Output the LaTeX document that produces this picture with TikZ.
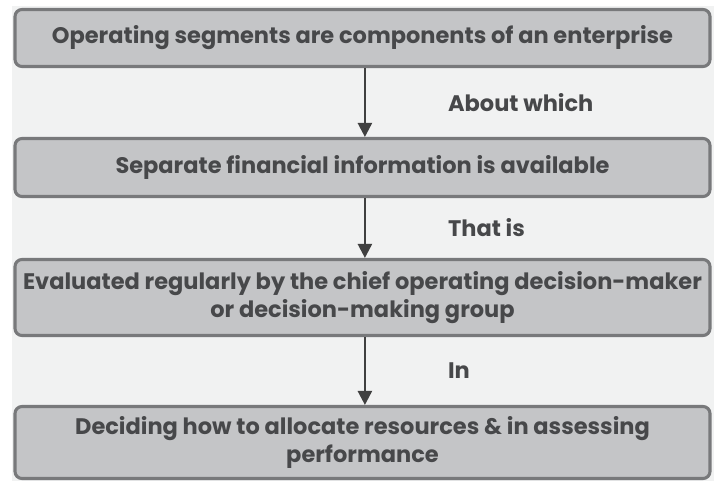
\documentclass[tikz,border=0pt]{standalone}
\usepackage{fontspec}
\setmainfont{Poppins}
\usetikzlibrary{arrows.meta}

\definecolor{pagebg}{HTML}{F1F2F2}
\definecolor{boxfill}{HTML}{C4C5C7}
\definecolor{boxline}{HTML}{78797B}
\definecolor{inktext}{HTML}{47484A}
\definecolor{arrowink}{HTML}{404040}

\begin{document}
\begin{tikzpicture}[
  every node/.style={font=\fontsize{16}{20.5}\selectfont\bfseries, text=inktext},
  stepbox/.style={rectangle, draw=boxline, fill=boxfill, line width=2.2pt,
    rounded corners=5pt, minimum width=17.375cm, align=center, inner sep=2pt},
  flowarrow/.style={draw=arrowink, line width=1.7pt,
    -{Triangle[length=10pt, width=10pt]}},
  linkword/.style={anchor=west, inner sep=0pt},
]

% Canvas
\useasboundingbox (0,0) rectangle (17.85,-12.025);
\fill[white] (0,0) rectangle (17.85,-12.025);
\fill[pagebg] (0.3,-0.15) rectangle (17.85,-12.025);

% Step 1
\node[stepbox, minimum height=1.425cm] (S1) at (9.0625,-0.95)
  {Operating segments are components of an enterprise};

% Step 2
\node[stepbox, minimum height=1.45cm] (S2) at (9.0625,-4.1875)
  {Separate financial information is available};

% Step 3
\node[stepbox, minimum height=1.9cm] (S3) at (9.0625,-7.4375)
  {Evaluated regularly by the chief operating decision-maker\\
   or decision-making group};

% Step 4
\node[stepbox, minimum height=1.8cm] (S4) at (9.0625,-11.0625)
  {Deciding how to allocate resources \& in assessing\\
   performance};

% Connectors with their linking words
\draw[flowarrow] ([xshift=0.06cm]S1.south) -- ([xshift=0.06cm]S2.north)
  node[linkword, midway, xshift=2.05cm] (W1) {About which};
\draw[flowarrow] ([xshift=0.06cm]S2.south) -- ([xshift=0.06cm]S3.north)
  node[linkword, midway, xshift=2.05cm] (W2) {That is};
\draw[flowarrow] ([xshift=0.06cm]S3.south) -- ([xshift=0.06cm]S4.north)
  node[linkword, midway, xshift=2.05cm] (W3) {In};

\end{tikzpicture}
\end{document}
